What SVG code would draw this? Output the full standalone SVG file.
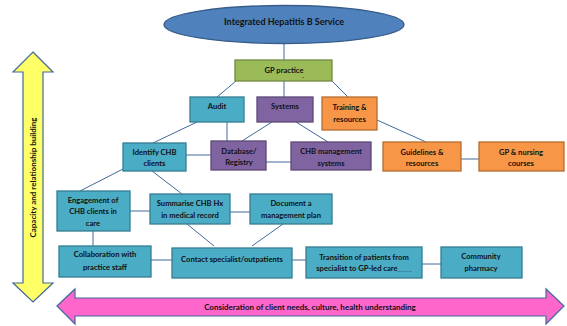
<svg xmlns="http://www.w3.org/2000/svg" width="567" height="326" viewBox="0 0 567 326">
<style>
text{font-family:Lato,"Liberation Sans",sans-serif;font-weight:bold;font-size:7.6px;fill:#111;text-anchor:middle}
.teal{fill:#4bacc6;stroke:#357d91;stroke-width:1.3}
.purple{fill:#8064a2;stroke:#5c4776;stroke-width:1.3}
.orange{fill:#f79646;stroke:#b66d31;stroke-width:1.3}
.green{fill:#9bbb59;stroke:#71893f;stroke-width:1.3}
#connectors line{stroke:#41699c;stroke-width:1}
</style>
<g id="capacity-arrow">
<polygon points="33,52 53,72 43,72 43,283 53,283 33,302 13,283 23,283 23,72 13,72" fill="#ffff66" stroke="#41699c" stroke-width="1.2"/>
<text transform="translate(36,177.5) rotate(-90)" style="font-size:8px">Capacity and relationship building</text>
</g>
<g id="consideration-arrow">
<polygon points="57,306 75,289 75,298 546,298 546,289 564,306 546,324 546,316 75,316 75,324" fill="#ff66cc" stroke="#41699c" stroke-width="1.2"/>
<text x="310" y="309.8" style="font-size:8px">Consideration of client needs, culture, health understanding</text>
</g>
<g id="connectors">
<line x1="284" y1="43" x2="284" y2="60"/>
<line x1="236" y1="81" x2="217" y2="97"/>
<line x1="284" y1="81" x2="284" y2="97"/>
<line x1="332" y1="81" x2="348" y2="97"/>
<line x1="197" y1="122" x2="153" y2="143"/>
<line x1="227" y1="122" x2="227" y2="141"/>
<line x1="272" y1="122" x2="242" y2="141"/>
<line x1="296" y1="122" x2="328" y2="142"/>
<line x1="377" y1="120" x2="426" y2="142"/>
<line x1="186" y1="155" x2="211" y2="155"/>
<line x1="266" y1="162" x2="291" y2="162"/>
<line x1="461" y1="159" x2="479" y2="159"/>
<line x1="123" y1="169" x2="80" y2="191"/>
<line x1="152" y1="171" x2="182" y2="194"/>
<line x1="130" y1="211" x2="150" y2="211"/>
<line x1="230" y1="212" x2="250" y2="212"/>
<line x1="187" y1="224" x2="214" y2="246"/>
<line x1="283" y1="224" x2="252" y2="246"/>
<line x1="93" y1="231" x2="93" y2="246"/>
<line x1="151" y1="260" x2="172" y2="260"/>
<line x1="292" y1="260" x2="306" y2="260"/>
<line x1="422" y1="264" x2="441" y2="264"/>
</g>
<g id="integrated-hepatitis-b-service">
<ellipse cx="284" cy="24.5" rx="120" ry="19" fill="#4f81bd" stroke="#385d8a" stroke-width="1.3"/>
<text x="284" y="25.3" style="font-size:9px">Integrated Hepatitis B Service</text>
</g>
<g id="gp-practice">
<rect class="green" x="235" y="60" width="97" height="21"/>
<text x="284" y="72.7">GP practice</text>
<text x="303" y="79" style="font-size:5px">-</text>
</g>
<g id="audit">
<rect class="teal" x="190" y="97" width="54" height="25"/>
<text x="217" y="109">Audit</text>
</g>
<g id="systems">
<rect class="purple" x="257" y="97" width="56" height="25"/>
<text x="285" y="109">Systems</text>
</g>
<g id="training-resources">
<rect class="orange" x="322" y="97" width="55" height="33"/>
<text x="349.5" y="110">Training &amp;</text>
<text x="349.5" y="122">resources</text>
</g>
<g id="identify-chb-clients">
<rect class="teal" x="123" y="143" width="63" height="28"/>
<text x="154.5" y="154.7">Identify CHB</text>
<text x="154.5" y="165.7">clients</text>
</g>
<g id="database-registry">
<rect class="purple" x="211" y="141" width="55" height="29"/>
<text x="239" y="153.7">Database/</text>
<text x="239" y="164.7">Registry</text>
</g>
<g id="chb-management-systems">
<rect class="purple" x="291" y="142" width="80" height="28"/>
<text x="331" y="153.7">CHB management</text>
<text x="331" y="165.7">systems</text>
</g>
<g id="guidelines-resources">
<rect class="orange" x="383" y="142" width="78" height="29"/>
<text x="422" y="154.7">Guidelines &amp;</text>
<text x="422" y="165.7">resources</text>
</g>
<g id="gp-nursing-courses">
<rect class="orange" x="479" y="142" width="85" height="29"/>
<text x="521" y="154.7">GP &amp; nursing</text>
<text x="521" y="165.7">courses</text>
</g>
<g id="engagement-of-chb-clients">
<rect class="teal" x="57" y="191" width="73" height="40"/>
<text x="93" y="202.7">Engagement of</text>
<text x="93" y="213.7">CHB clients in</text>
<text x="93" y="225.7">care</text>
</g>
<g id="summarise-chb-hx">
<rect class="teal" x="150" y="194" width="80" height="30"/>
<text x="190" y="205.7">Summarise CHB Hx</text>
<text x="190" y="217.7">in medical record</text>
</g>
<g id="document-management-plan">
<rect class="teal" x="250" y="194" width="82" height="30"/>
<text x="291" y="205.7">Document a</text>
<text x="291" y="217.7">management plan</text>
</g>
<g id="collaboration-practice-staff">
<rect class="teal" x="59" y="246" width="92" height="31"/>
<text x="105" y="256.7">Collaboration with</text>
<text x="105" y="269.7">practice staff</text>
</g>
<g id="contact-specialist">
<rect class="teal" x="172" y="248" width="120" height="30"/>
<text x="232" y="261.7">Contact specialist/outpatients</text>
</g>
<g id="transition-of-patients">
<rect class="teal" x="306" y="247" width="116" height="31"/>
<text x="364" y="259.7">Transition of patients from</text>
<text x="364" y="270.7">specialist to GP-led care<tspan fill="#41699c">____</tspan></text>
</g>
<g id="community-pharmacy">
<rect class="teal" x="441" y="247" width="81" height="31"/>
<text x="481" y="258.7">Community</text>
<text x="481" y="270.7">pharmacy</text>
</g>
</svg>
